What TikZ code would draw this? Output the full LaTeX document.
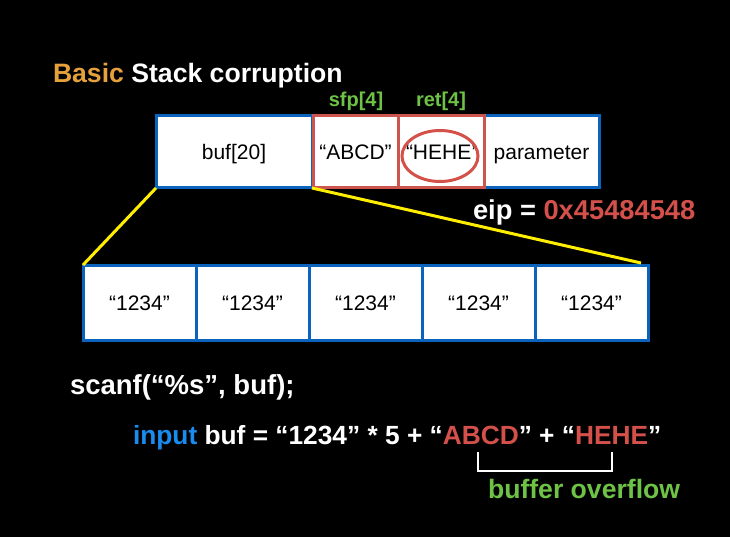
\documentclass[tikz,border=0pt]{standalone}
\usepackage{fontspec}
\setmainfont{Liberation Sans}
\usetikzlibrary{calc}
\definecolor{boxblue}{RGB}{10,100,190}
\definecolor{boxred}{RGB}{205,85,80}
\definecolor{hlred}{RGB}{212,80,75}
\definecolor{orng}{RGB}{230,160,60}
\definecolor{grn}{RGB}{110,195,70}
\definecolor{inblue}{RGB}{25,140,240}
\definecolor{yel}{RGB}{255,238,0}
\tikzset{
  cell/.style={draw=boxblue, fill=white, line width=3pt, inner sep=0pt, outer sep=0pt,
    font=\fontsize{21}{24}\selectfont, text=black, text height=15pt, text depth=0pt},
  redcell/.style={cell, draw=boxred},
  txt/.style={inner sep=0pt, outer sep=0pt, anchor=base west, text=white,
    font=\bfseries\fontsize{26.3}{30}\selectfont},
  lbl/.style={inner sep=0pt, anchor=base, text=grn, font=\bfseries\fontsize{20}{24}\selectfont},
  zoomline/.style={draw=yel, line width=3pt},
}
\begin{document}
\begin{tikzpicture}[x=1pt,y={(0pt,-1pt)}]
\fill[black] (0,0) rectangle (730,537);
\useasboundingbox (0,0) rectangle (730,537);

% title
\node[txt, font=\bfseries\fontsize{26.6}{30}\selectfont] (title) at (53,83) {\textcolor{orng}{Basic} Stack corruption};

% labels
\node[lbl] (sfp) at (356,107) {sfp[4]};
\node[lbl] (ret) at (441,107) {ret[4]};

% bottom boxes
\node[cell, minimum width=113, minimum height=75] (b1) at (139.5,302.5) {“1234”};
\node[cell, minimum width=113, minimum height=75] (b2) at (252.5,302.5) {“1234”};
\node[cell, minimum width=113, minimum height=75] (b3) at (365.5,302.5) {“1234”};
\node[cell, minimum width=113, minimum height=75] (b4) at (478.5,302.5) {“1234”};
\node[cell, minimum width=113, minimum height=75] (b5) at (591.5,302.5) {“1234”};

% top boxes
\node[cell, minimum width=156, minimum height=72] (buf) at (234,152) {buf[20]};
\node[cell, minimum width=115, minimum height=72] (param) at (541.5,152) {parameter};
\node[redcell, minimum width=85, minimum height=72] (abcd) at (355.5,152) {“ABCD”};
\node[redcell, minimum width=86, minimum height=72] (hehe) at (441,152) {“HEHE’};

% zoom lines
\draw[zoomline] (buf.south west) -- (b1.north west);
\draw[zoomline] (buf.south east) -- ($(b5.north east)+(-7,-2)$);

% circle around HEHE
\draw[hlred, line width=3pt] (440,156) ellipse [x radius=38, y radius=25.5];

% eip
\node[txt, font=\bfseries\fontsize{27.3}{30}\selectfont] (eip) at (473,219) {eip = \textcolor{hlred}{0x45484548}};

% code lines
\node[txt, font=\bfseries\fontsize{27.5}{30}\selectfont] (scanf) at (70,394) {scanf(“\%s”, buf);};
\node[txt] (input) at (133,444) {\textcolor{inblue}{input} buf = “1234” * 5 + “\textcolor{hlred}{ABCD}” + “\textcolor{hlred}{HEHE}”};

% bracket
\coordinate (brl) at (478,452);
\coordinate (brr) at (612,452);
\draw[white, line width=1.2pt] (brl) -- ++(0,19) -- ($(brr)+(0,19)$) -- (brr);

\node[txt, text=grn, font=\bfseries\fontsize{26.6}{30}\selectfont] (bo) at (488,498) {buffer overflow};
\end{tikzpicture}
\end{document}
